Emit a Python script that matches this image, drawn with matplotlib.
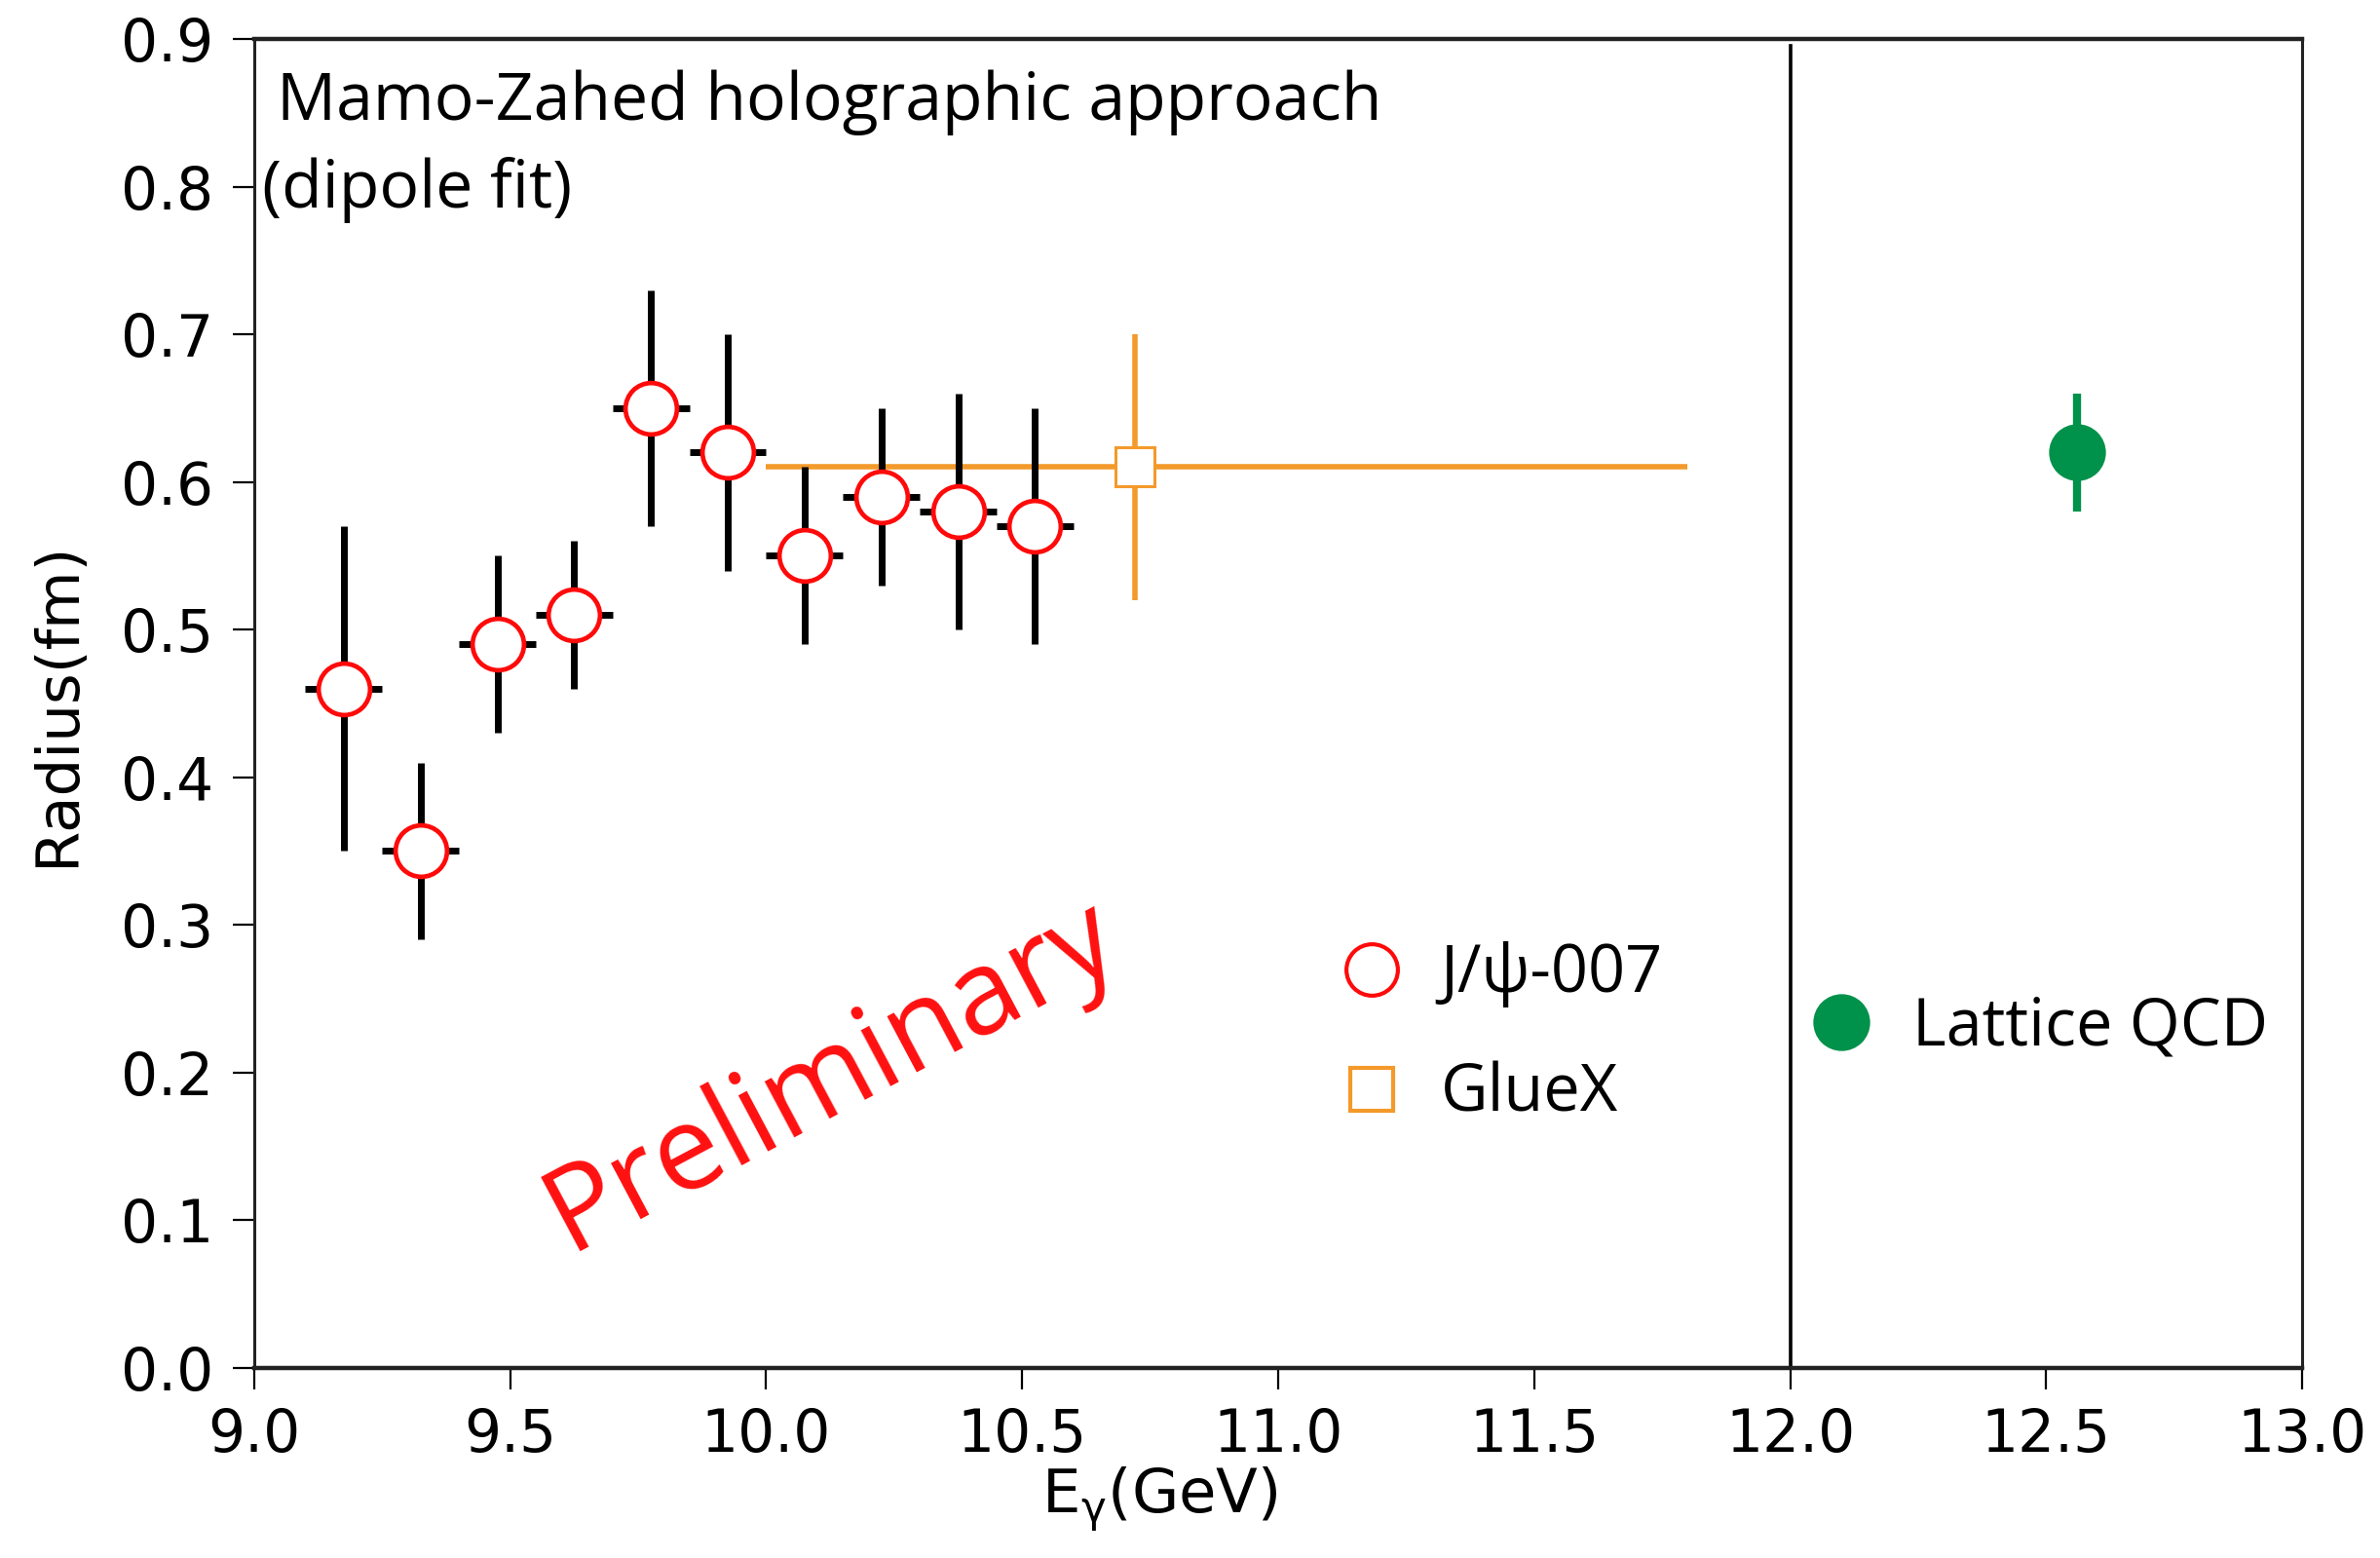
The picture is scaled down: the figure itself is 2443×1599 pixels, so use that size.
"""Proton mass radius vs photon energy: J/psi-007, GlueX and lattice QCD."""

import matplotlib

matplotlib.use("Agg")
import matplotlib.pyplot as plt
import numpy as np
from matplotlib.lines import Line2D

# J/psi-007 bins (centre, radius, error band low/high)
jpsi_energy = [9.175, 9.325, 9.475, 9.625, 9.775, 9.925, 10.075, 10.225, 10.375, 10.525]
jpsi_radius = [0.46, 0.35, 0.49, 0.51, 0.65, 0.62, 0.55, 0.59, 0.58, 0.57]
jpsi_low = [0.35, 0.29, 0.43, 0.46, 0.57, 0.54, 0.49, 0.53, 0.50, 0.49]
jpsi_high = [0.57, 0.41, 0.55, 0.56, 0.73, 0.70, 0.61, 0.65, 0.66, 0.65]
jpsi_half_bin = 0.075

# GlueX single point with wide energy range
gluex_energy = [10.72]
gluex_energy_low = [10.0]
gluex_energy_high = [11.8]
gluex_radius = [0.61]
gluex_low = [0.52]
gluex_high = [0.70]

# Lattice QCD
lattice_energy = [12.56]
lattice_radius = [0.62]
lattice_low = [0.58]
lattice_high = [0.66]

x_ticks = [9.0, 9.5, 10.0, 10.5, 11.0, 11.5, 12.0, 12.5, 13.0]
y_ticks = [0.0, 0.1, 0.2, 0.3, 0.4, 0.5, 0.6, 0.7, 0.8, 0.9]
divider_energy = 12.0

RED = "#FF0A0A"
ORANGE = "#F39A2B"
GREEN = "#00914A"
TEXT_FONT = ["Open Sans", "DejaVu Sans"]


def asym(center, low, high):
    center = np.asarray(center)
    return [center - np.asarray(low), np.asarray(high) - center]


def main() -> None:
    plt.rcParams["font.family"] = ["DejaVu Sans"]
    fig, ax = plt.subplots(figsize=(24.43, 15.99), dpi=100)
    fig.subplots_adjust(left=0.1068, right=0.9673, top=0.975, bottom=0.122)

    ax.errorbar(
        gluex_energy,
        gluex_radius,
        xerr=asym(gluex_energy, gluex_energy_low, gluex_energy_high),
        yerr=asym(gluex_radius, gluex_low, gluex_high),
        fmt="s",
        color=ORANGE,
        ecolor=ORANGE,
        elinewidth=4,
        markersize=29,
        markerfacecolor="white",
        markeredgecolor=ORANGE,
        markeredgewidth=2.2,
        capsize=0,
        zorder=2,
    )
    ax.errorbar(
        jpsi_energy,
        jpsi_radius,
        xerr=jpsi_half_bin,
        yerr=asym(jpsi_radius, jpsi_low, jpsi_high),
        fmt="o",
        ecolor="black",
        elinewidth=5,
        markersize=38,
        markerfacecolor="white",
        markeredgecolor=RED,
        markeredgewidth=3.4,
        capsize=0,
        zorder=3,
    )
    ax.errorbar(
        lattice_energy,
        lattice_radius,
        yerr=asym(lattice_radius, lattice_low, lattice_high),
        fmt="o",
        color=GREEN,
        ecolor=GREEN,
        elinewidth=6,
        markersize=41,
        capsize=0,
        zorder=3,
    )
    ax.axvline(divider_energy, ymax=0.995, color="black", linewidth=2.6, zorder=1)

    ax.set_xlim(9.0, 13.0)
    ax.set_ylim(0.0, 0.9)
    ax.set_xticks(x_ticks)
    ax.set_yticks(y_ticks)
    ax.set_xticklabels([f"{v:.1f}" for v in x_ticks])
    ax.set_yticklabels([f"{v:.1f}" for v in y_ticks])
    ax.tick_params(axis="both", labelsize=43, length=16, width=1.6, direction="out")
    ax.tick_params(axis="x", pad=13)
    ax.tick_params(axis="y", pad=14)
    for side, spine in ax.spines.items():
        spine.set_linewidth(3.2 if side in ("top", "bottom") else 2.2)
        spine.set_color("#222222")

    ax.set_xlabel("E$_\\mathregular{\u03b3}$(GeV)", fontsize=45)
    ax.xaxis.label.set_va("center")
    ax.xaxis.set_label_coords(0.442, -0.099)
    ax.set_ylabel("Radius(fm)", fontsize=44)
    ax.yaxis.label.set_va("center")
    ax.yaxis.set_label_coords(-0.096, 0.5)

    ax.text(0.011, 0.939, "Mamo-Zahed holographic approach", transform=ax.transAxes,
            fontsize=49, family=TEXT_FONT, va="baseline", ha="left")
    ax.text(0.004, 0.873, "(dipole fit)", transform=ax.transAxes,
            fontsize=49, family=TEXT_FONT, va="baseline", ha="left")
    ax.text(10.128, 0.197, "Preliminary", color="#FF1010", fontsize=87,
            family=TEXT_FONT, rotation=28, ha="center", va="center",
            rotation_mode="anchor")

    exp_handles = [
        Line2D([], [], linestyle="none", marker="o", markersize=38,
               markerfacecolor="white", markeredgecolor=RED, markeredgewidth=3.0,
               label="J/\u03c8-007"),
        Line2D([], [], linestyle="none", marker="s", markersize=32,
               markerfacecolor="white", markeredgecolor=ORANGE, markeredgewidth=3.0,
               label="GlueX"),
    ]
    legend_exp = ax.legend(
        handles=exp_handles, loc="center left", bbox_to_anchor=(0.530, 0.251),
        frameon=False, prop={"family": TEXT_FONT, "size": 48},
        handlelength=1.0, handletextpad=0.55, labelspacing=0.83,
        borderpad=0, borderaxespad=0,
    )
    ax.add_artist(legend_exp)
    lattice_handle = Line2D([], [], linestyle="none", marker="o", markersize=41,
                            color=GREEN, label="Lattice QCD")
    ax.legend(
        handles=[lattice_handle], loc="center left", bbox_to_anchor=(0.759, 0.256),
        frameon=False, prop={"family": TEXT_FONT, "size": 48},
        handlelength=1.0, handletextpad=0.6, borderpad=0, borderaxespad=0,
    )

    fig.savefig("out.png", dpi=100)
    plt.close(fig)


if __name__ == "__main__":
    main()
